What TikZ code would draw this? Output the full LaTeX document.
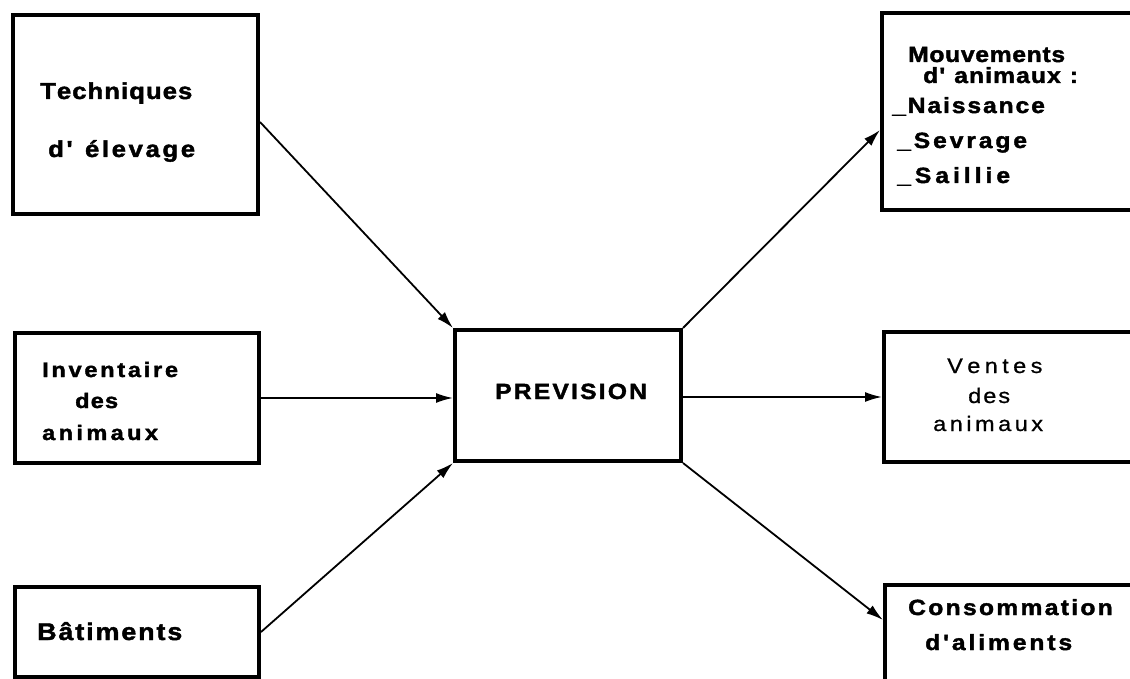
\documentclass[tikz,border=0pt]{standalone}
\usepackage{fontspec}
\setmainfont{Liberation Sans}
% slightly widened, heavy sans for the labels
\newfontfamily\heavyface{Liberation Sans}[FakeStretch=1.12, BoldFeatures={FakeBold=1.8}]
\newfontfamily\lightface{Liberation Sans}[FakeStretch=1.12, FakeBold=0.8]
\usetikzlibrary{arrows.meta}
% letter-spaced text: a fixed kern (in pt) after every glyph
\ExplSyntaxOn
\NewDocumentCommand\spaced{mm}{\tl_map_inline:nn{#2}{##1\kern#1pt}}
\ExplSyntaxOff
\begin{document}
\begin{tikzpicture}[x=1pt,y=-1pt,
  box/.style={draw, line width=4pt, inner sep=0pt, line join=miter},
  lbl/.style={anchor=base west, inner sep=0pt},
  fA/.style={font=\fontsize{23}{27}\heavyface\bfseries},
  fE/.style={font=\fontsize{24}{28}\heavyface\bfseries},
  fB/.style={font=\fontsize{21}{25}\heavyface\bfseries},
  fC/.style={font=\fontsize{22}{26}\heavyface\bfseries},
  fD/.style={font=\fontsize{21}{25}\lightface},
  arr/.style={line width=1.8pt, -{Latex[length=17pt,width=10pt]}}]
\useasboundingbox (0,0) rectangle (1130,679);
\clip (0,0) rectangle (1130,679);

% boxes
\node[box, minimum width=245pt, minimum height=199pt] (tech) at (135.5,114.5) {};
\node[box, minimum width=244pt, minimum height=130pt] (inv)  at (137,398) {};
\node[box, minimum width=244pt, minimum height=90pt]  (bat)  at (137,632) {};
\node[box, minimum width=226pt, minimum height=131pt] (prev) at (568,395.5) {};
\node[box, minimum width=258pt, minimum height=197pt] (mouv) at (1011,111.5) {};
\node[box, minimum width=256pt, minimum height=130pt] (vent) at (1012,397) {};
\node[box, minimum width=255pt, minimum height=115pt] (cons) at (1012.5,642.5) {};

% left column labels
\node[lbl, fA] (tech1) at (40,99)  {\spaced{1.0}{Techniques}};
\node[lbl, fA] (tech2) at (48,157) {\spaced{2.6}{d'~élevage}};
\node[lbl, fB] (inv1) at (42,377)  {\spaced{2.75}{Inventaire}};
\node[lbl, fB] (inv2) at (75,408)  {\spaced{1.2}{des}};
\node[lbl, fB] (inv3) at (42,440)  {\spaced{3.4}{animaux}};
\node[lbl, fE] (bat1) at (37,640)  {\spaced{1.9}{Bâtiments}};

% centre label
\node[lbl, fC] (prev1) at (495,399) {\spaced{2.2}{PREVISION}};

% right column labels
\node[lbl, fC] (mouv1) at (908,62)  {\spaced{0.7}{Mouvements}};
\node[lbl, fC] (mouv2) at (923,83)  {\spaced{1.1}{d'~animaux~:}};
\node[lbl, fC] (mouv3) at (892,113) {\spaced{1.9}{\_Naissance}};
\node[lbl, fC] (mouv4) at (897,148) {\spaced{2.9}{\_Sevrage}};
\node[lbl, fC] (mouv5) at (897,183) {\spaced{4.0}{\_Saillie}};
\node[lbl, fD] (vent1) at (947,373) {\spaced{4.4}{Ventes}};
\node[lbl, fD] (vent2) at (968,403) {\spaced{2.0}{des}};
\node[lbl, fD] (vent3) at (933,431) {\spaced{3.5}{animaux}};
\node[lbl, fC] (cons1) at (908,615) {\spaced{2.3}{Consommation}};
\node[lbl, fC] (cons2) at (925,650) {\spaced{2.9}{d'aliments}};

% connectors
\draw[arr] ([yshift=-7.5pt]tech.east) -- (prev.north west);
\draw[arr] (inv.east) -- (inv.east -| prev.west);
\draw[arr] (bat.east) -- (prev.south west);
\draw[arr] (prev.north east) -- ([yshift=-18.5pt]mouv.west);
\draw[arr] (vent.west -| prev.east) -- (vent.west);
\draw[arr] (prev.south east) -- ([yshift=22.5pt]cons.west);
\end{tikzpicture}
\end{document}
